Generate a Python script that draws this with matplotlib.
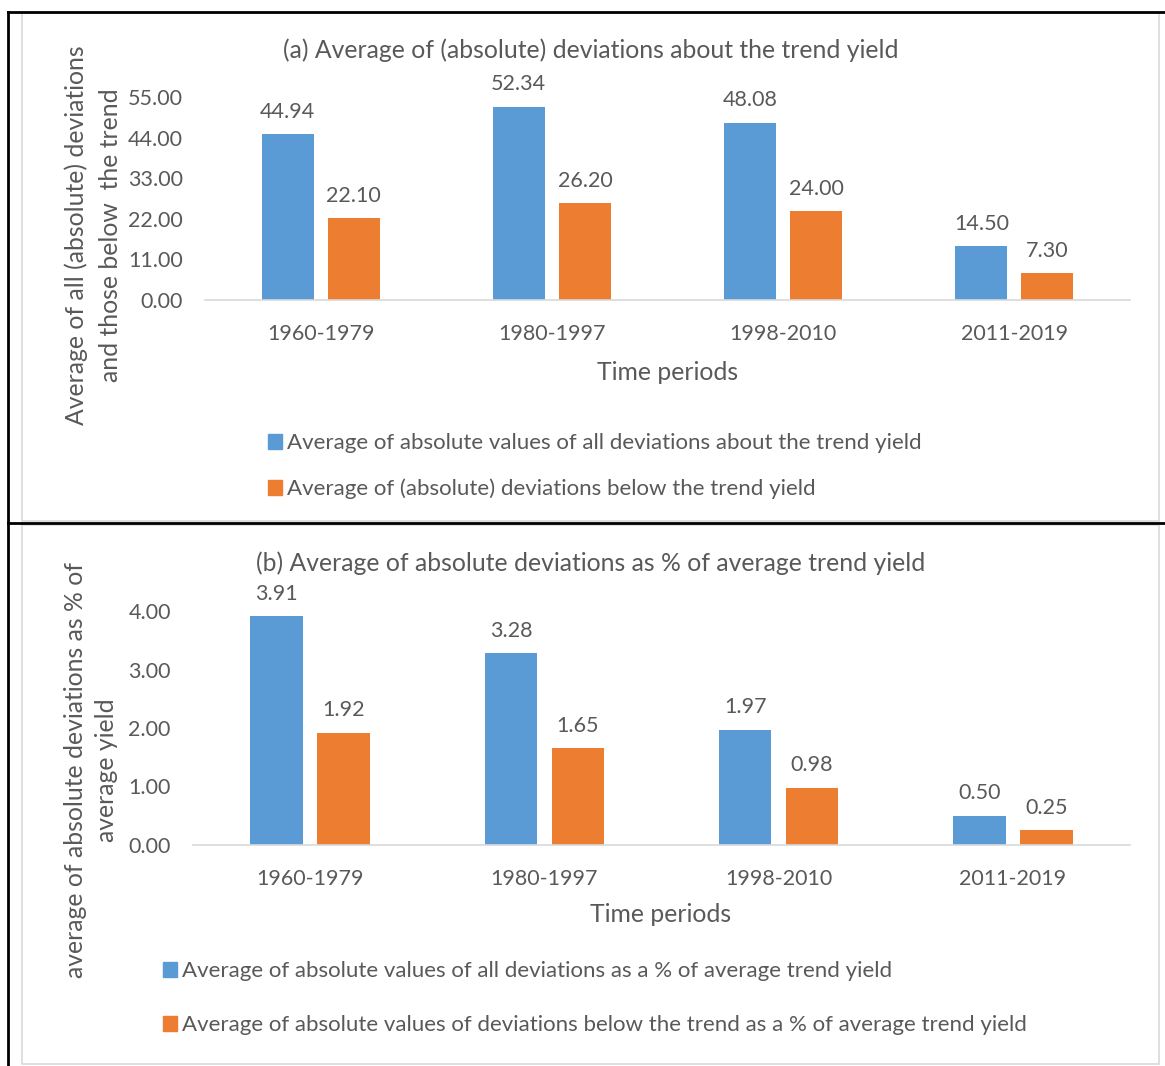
import numpy as np
import matplotlib
matplotlib.use("Agg")
import matplotlib.pyplot as plt
from matplotlib.lines import Line2D
from matplotlib.patches import Rectangle, Patch

periods = ['1960-1979', '1980-1997', '1998-2010', '2011-2019']
# panel (a)
all_dev_a = [44.94, 52.34, 48.08, 14.50]
below_dev_a = [22.10, 26.20, 24.00, 7.30]
ticks_a = [0, 11, 22, 33, 44, 55]
# panel (b)
all_dev_b = [3.91, 3.28, 1.97, 0.50]
below_dev_b = [1.92, 1.65, 0.98, 0.25]
ticks_b = [0, 1, 2, 3, 4]

BLUE = '#5B9BD5'
ORANGE = '#ED7D31'
GREY = '#595959'
W, H = 1165, 1066
FS_TICK = 15.5
FS_TITLE = 17.8
FS_LEG = 16

plt.rcParams['font.family'] = ['Lato', 'DejaVu Sans']
fig = plt.figure(figsize=(W / 100, H / 100), dpi=100)


def px_axes(l, t, r, b):
    return fig.add_axes([l / W, 1 - b / H, (r - l) / W, (b - t) / H])


def fx(x):
    return x / W


def fy(y):
    return 1 - y / H


def draw_panel(ax, blue, orange, ticks):
    x = np.arange(len(periods))
    wbar = 0.225
    off = 0.143
    b1 = ax.bar(x - off, blue, wbar, color=BLUE)
    b2 = ax.bar(x + off, orange, wbar, color=ORANGE)
    for bars in (b1, b2):
        for rect in bars:
            ax.annotate('%.2f' % rect.get_height(),
                        (rect.get_x() + rect.get_width() / 2, rect.get_height()),
                        xytext=(0, 9), textcoords='offset points',
                        ha='center', va='bottom', fontsize=FS_TICK, color=GREY,
                        annotation_clip=False)
    ax.set_xlim(-0.5, len(periods) - 0.5)
    ax.set_ylim(ticks[0], ticks[-1])
    ax.set_yticks(ticks)
    ax.set_yticklabels(['%.2f' % t for t in ticks])
    ax.set_xticks(x)
    ax.set_xticklabels(periods)
    ax.tick_params(length=0, labelsize=FS_TICK, colors=GREY)
    ax.tick_params(axis='x', pad=17)
    ax.tick_params(axis='y', pad=16)
    for s in ('top', 'right', 'left'):
        ax.spines[s].set_visible(False)
    ax.spines['bottom'].set_color('#D9D9D9')
    ax.spines['bottom'].set_linewidth(1.2)
    ax.set_facecolor('none')


# chart frames (light grey) and table lines (black)
fig.add_artist(Rectangle((fx(22), fy(521)), fx(1159 - 22), fy(13) - fy(521),
                         fill=False, edgecolor='#D9D9D9', lw=1.2))
fig.add_artist(Rectangle((fx(22), fy(1064)), fx(1159 - 22), fy(525) - fy(1064),
                         fill=False, edgecolor='#D9D9D9', lw=1.2))
fig.add_artist(Line2D([fx(8), 1], [fy(12), fy(12)], color='black', lw=2))
fig.add_artist(Line2D([fx(8), 1], [fy(523), fy(523)], color='black', lw=2))
fig.add_artist(Line2D([fx(8), fx(8)], [fy(12), 0], color='black', lw=2))

# panel (a)
ax1 = px_axes(205, 97, 1130, 300)
draw_panel(ax1, all_dev_a, below_dev_a, ticks_a)
fig.text(fx(591), fy(50), '(a) Average of (absolute) deviations about the trend yield',
         ha='center', va='center', fontsize=FS_TITLE, color=GREY)
fig.text(fx(668), fy(372), 'Time periods', ha='center', va='center', fontsize=FS_TITLE, color=GREY)
fig.text(fx(93), fy(235), 'Average of all (absolute) deviations\nand those below  the trend',
         ha='center', va='center', rotation=90, fontsize=FS_TITLE, color=GREY, linespacing=1.55)
fig.legend(handles=[Patch(color=BLUE), Patch(color=ORANGE)],
           labels=['Average of absolute values of all deviations about the trend yield',
                   'Average of (absolute) deviations below the trend yield'],
           loc='upper left', bbox_to_anchor=(fx(268), fy(433)), frameon=False,
           fontsize=FS_LEG, labelcolor=GREY, handlelength=0.65, handleheight=0.65,
           handletextpad=0.2, labelspacing=1.15, borderaxespad=0, borderpad=0)

# panel (b)
ax2 = px_axes(193, 611, 1130, 845)
draw_panel(ax2, all_dev_b, below_dev_b, ticks_b)
fig.text(fx(591), fy(563), '(b) Average of absolute deviations as % of average trend yield',
         ha='center', va='center', fontsize=FS_TITLE, color=GREY)
fig.text(fx(661), fy(915), 'Time periods', ha='center', va='center', fontsize=FS_TITLE, color=GREY)
fig.text(fx(91), fy(770), 'average of absolute deviations as % of\naverage yield',
         ha='center', va='center', rotation=90, fontsize=FS_TITLE, color=GREY, linespacing=1.4)
fig.legend(handles=[Patch(color=BLUE), Patch(color=ORANGE)],
           labels=['Average of absolute values of all deviations as a % of average trend yield',
                   'Average of absolute values of deviations below the trend as a % of average trend yield'],
           loc='upper left', bbox_to_anchor=(fx(163), fy(961)), frameon=False,
           fontsize=FS_LEG, labelcolor=GREY, handlelength=0.65, handleheight=0.65,
           handletextpad=0.2, labelspacing=1.55, borderaxespad=0, borderpad=0)

fig.savefig('out.png', dpi=100)
